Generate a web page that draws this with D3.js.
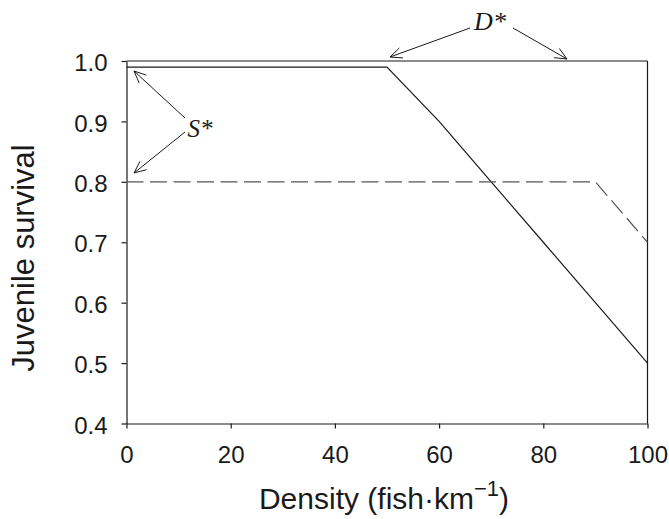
<!DOCTYPE html>
<html><head><meta charset="utf-8">
<script src="https://cdn.jsdelivr.net/npm/d3@7"></script>
<style>body{margin:0;background:#fff}svg{display:block}</style>
</head><body>
<svg id="c" width="669" height="519"></svg>
<script>
const density = [0, 50, 60, 70, 80, 90, 100];
const survivalSolid = [0.99, 0.99, 0.90, 0.80, 0.70, 0.60, 0.50];
const densityDashed = [0, 90, 100];
const survivalDashed = [0.80, 0.80, 0.70];
const xTicks = [0, 20, 40, 60, 80, 100];
const yTicks = [0.4, 0.5, 0.6, 0.7, 0.8, 0.9, 1.0];

const svg = d3.select("#c");
const L = 126.5, R = 647.5, T = 61, B = 423.5;
const x = d3.scaleLinear().domain([0, 100]).range([L, R]);
const y = d3.scaleLinear().domain([0.4, 1.0]).range([B, T]);
const font = "'Liberation Sans', Arial, sans-serif";
const ink = "#1a1a1a";

// frame
svg.append("line").attr("x1", L).attr("x2", R).attr("y1", T).attr("y2", T).attr("stroke", ink).attr("stroke-width", 1.2);
svg.append("line").attr("x1", R).attr("x2", R).attr("y1", T).attr("y2", B).attr("stroke", ink).attr("stroke-width", 1.2);

const xa = svg.append("g").attr("transform", `translate(0,${B})`)
  .call(d3.axisBottom(x).tickValues(xTicks).tickFormat(d3.format("d")).tickSizeOuter(0).tickSizeInner(5).tickPadding(17));
const ya = svg.append("g").attr("transform", `translate(${L},0)`)
  .call(d3.axisLeft(y).tickValues(yTicks).tickFormat(d3.format(".1f")).tickSizeOuter(0).tickSizeInner(5).tickPadding(14));
[xa, ya].forEach(a => {
  a.select(".domain").attr("stroke", ink).attr("stroke-width", 1.2);
  a.selectAll(".tick line").attr("stroke", ink).attr("stroke-width", 1.2);
  a.selectAll("text").attr("font-family", font).attr("font-size", 24).attr("fill", ink);
});
ya.selectAll("text").attr("dy", "0.4em");

const line = d3.line().x(d => x(d[0])).y(d => y(d[1]));
svg.append("path").datum(density.map((d, i) => [d, survivalSolid[i]]))
  .attr("d", line).attr("fill", "none").attr("stroke", ink).attr("stroke-width", 1.2);
svg.append("path").datum(densityDashed.map((d, i) => [d, survivalDashed[i]]))
  .attr("d", line).attr("fill", "none").attr("stroke", "#555").attr("stroke-width", 1.2)
  .attr("stroke-dasharray", "17,6.5");

// axis titles
svg.append("text").attr("x", 384).attr("y", 509).attr("text-anchor", "middle")
  .attr("font-family", font).attr("font-size", 30).attr("fill", ink)
  .html('Density (fish·km<tspan dy="-13" font-size="22">−1</tspan><tspan dy="13">)</tspan>');
svg.append("text").attr("transform", `translate(34,258) rotate(-90)`).attr("text-anchor", "middle")
  .attr("font-family", font).attr("font-size", 31).attr("fill", ink).text("Juvenile survival");

// annotations
function arrow(x1, y1, x2, y2) {
  svg.append("line").attr("x1", x1).attr("y1", y1).attr("x2", x2).attr("y2", y2).attr("stroke", ink).attr("stroke-width", 1);
  const a = Math.atan2(y2 - y1, x2 - x1), h = 13, s = 0.42;
  [a + Math.PI - s, a + Math.PI + s].forEach(b => {
    svg.append("line").attr("x1", x2).attr("y1", y2).attr("x2", x2 + h * Math.cos(b)).attr("y2", y2 + h * Math.sin(b))
      .attr("stroke", ink).attr("stroke-width", 1);
  });
}
const serif = "'Liberation Serif', 'Times New Roman', serif";
svg.append("text").attr("x", 490).attr("y", 30).attr("text-anchor", "middle").attr("font-family", serif)
  .attr("font-style", "italic").attr("font-size", 26).attr("fill", ink).text("D*");
arrow(470, 28, 390, 57);
arrow(513, 28, 567, 59);
svg.append("text").attr("x", 200).attr("y", 137).attr("text-anchor", "middle").attr("font-family", serif)
  .attr("font-style", "italic").attr("font-size", 25).attr("fill", ink).text("S*");
arrow(185, 118, 134, 71);
arrow(185, 132, 134, 173);
</script>
</body></html>
